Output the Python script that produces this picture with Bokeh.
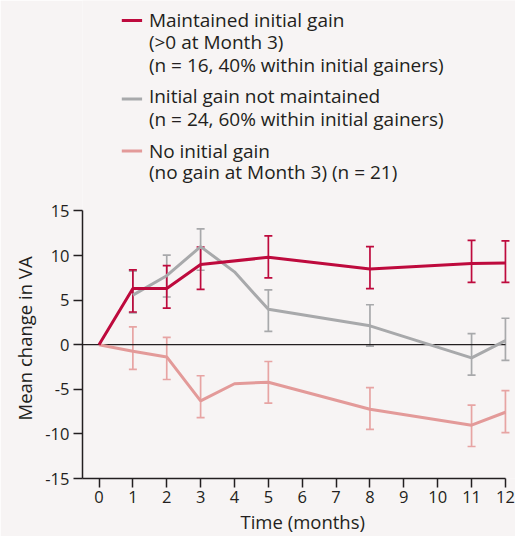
from bokeh.plotting import figure
from bokeh.models import (ColumnDataSource, Whisker, TeeHead, FixedTicker, Range1d, Title)
from bokeh.core.properties import value
from bokeh.embed import file_html
from bokeh.resources import INLINE

# ---------------- data ----------------
months_ticks = [0, 1, 2, 3, 4, 5, 6, 7, 8, 9, 10, 11, 12]
y_ticks = [-15, -10, -5, 0, 5, 10, 15]
y_tick_labels = ["-15", "-10", "-5", "0", "5", "10", "15"]

maint_x = [0, 1, 2, 3, 5, 8, 11, 12]
maint_y = [0, 6.3, 6.3, 9.0, 9.8, 8.5, 9.1, 9.15]
maint_err_x = [1, 2, 3, 5, 8, 11, 12]
maint_hi = [8.4, 8.86, 10.96, 12.2, 11.0, 11.7, 11.65]
maint_lo = [3.67, 4.1, 6.2, 7.5, 6.3, 7.0, 7.0]

notm_x = [1, 2, 3, 4, 5, 8, 11, 12]
notm_y = [5.56, 7.74, 11.0, 8.17, 3.97, 2.12, -1.48, 0.45]
notm_err_x = [1, 2, 3, 5, 8, 11, 12]
notm_hi = [8.25, 10.05, 13.0, 6.14, 4.48, 1.24, 2.97]
notm_lo = [3.57, 5.35, 8.35, 1.5, -0.16, -3.4, -1.75]

nog_x = [0, 1, 2, 3, 4, 5, 8, 11, 12]
nog_y = [0, -0.73, -1.37, -6.3, -4.38, -4.2, -7.24, -9.02, -7.57]
nog_err_x = [1, 2, 3, 5, 8, 11, 12]
nog_hi = [2.0, 0.83, -3.48, -1.88, -4.82, -6.77, -5.14]
nog_lo = [-2.77, -3.9, -8.18, -6.55, -9.49, -11.41, -9.85]

legend_lines = [
    ["Maintained initial gain", "(>0 at Month 3)", "(n = 16, 40% within initial gainers)"],
    ["Initial gain not maintained", "(n = 24, 60% within initial gainers)"],
    ["No initial gain", "(no gain at Month 3) (n = 21)"],
]
x_title = "Time (months)"
y_title = "Mean change in VA"

C_MAINT = "#BE0A3D"
C_NOTM = "#A8A9AB"
C_NOG = "#E39A99"
C_NOG_ERR = "#E7A4A3"
BG = "#F7F4F4"
TXT = "#231F20"
FONT = "Open Sans"

# ---------------- layout geometry (pixels) ----------------
W, H = 515, 536
LEFT = 82            # frame left (y axis line)
BOTTOM = 58          # space below frame
PX_X0 = 98.5         # pixel of month 0
PX_PER_MONTH = 33.87
PX_Y0 = 344.4        # pixel (from top) of VA 0
PX_PER_VA = 8.923

def dx(px):
    return (px - PX_X0) / PX_PER_MONTH

def dy(py):
    return (PX_Y0 - py) / PX_PER_VA

X_START = dx(LEFT)
X_END = dx(W)
Y_TOP = dy(0)

p = figure(width=W, height=H, output_backend="svg", toolbar_location=None,
           x_range=Range1d(X_START, X_END), y_range=Range1d(-15, Y_TOP),
           min_border_left=LEFT, min_border_right=0, min_border_top=0, min_border_bottom=BOTTOM)
p.background_fill_color = BG
p.border_fill_color = BG
p.outline_line_color = None
p.grid.visible = False

for ax in (p.xaxis[0], p.yaxis[0]):
    ax.axis_line_color = TXT
    ax.axis_line_width = 1.5
    ax.major_tick_line_color = TXT
    ax.major_tick_line_width = 1.5
    ax.major_tick_out = 9
    ax.major_tick_in = 0
    ax.minor_tick_line_color = None
    ax.major_label_text_font = FONT
    ax.major_label_text_font_size = "16.5px"
    ax.major_label_text_color = TXT
p.xaxis.ticker = FixedTicker(ticks=months_ticks)
p.xaxis.bounds = (X_START, months_ticks[-1])
p.xaxis.major_label_standoff = 3
p.yaxis.ticker = FixedTicker(ticks=y_ticks)
p.yaxis.bounds = (y_ticks[0], y_ticks[-1])
p.yaxis.major_label_overrides = {t: s for t, s in zip(y_ticks, y_tick_labels)}
p.yaxis.major_label_standoff = 4

p.add_layout(Title(text=x_title, align="left", offset=158, standoff=3,
                   text_font=FONT, text_font_size="18.5px", text_font_style="normal",
                   text_color=TXT), "below")
p.add_layout(Title(text=y_title, align="left", vertical_align="top", offset=58, standoff=8,
                   text_font=FONT, text_font_size="18.5px", text_font_style="normal",
                   text_color=TXT), "left")

# zero line
p.segment(x0=[X_START], y0=[0], x1=[months_ticks[-1]], y1=[0], line_color=TXT, line_width=1.3)

# series lines
p.line(notm_x, notm_y, line_color=C_NOTM, line_width=3)
p.line(nog_x, nog_y, line_color=C_NOG, line_width=3)
p.line(maint_x, maint_y, line_color=C_MAINT, line_width=3)

def add_err(xs, lo, hi, color, width=1.7):
    src = ColumnDataSource(dict(x=xs, lo=lo, hi=hi))
    w = Whisker(base="x", lower="lo", upper="hi", source=src,
                line_color=color, line_width=width,
                upper_head=TeeHead(size=8, line_color=color, line_width=width),
                lower_head=TeeHead(size=8, line_color=color, line_width=width))
    p.add_layout(w)

add_err(nog_err_x, nog_lo, nog_hi, C_NOG_ERR)
add_err(notm_err_x, notm_lo, notm_hi, C_NOTM)
add_err(maint_err_x, maint_lo, maint_hi, C_MAINT)

# legend (drawn above the axes, in the free area of the frame)
colors = [C_MAINT, C_NOTM, C_NOG]
sample_py = [20.1, 98.6, 150.5]
text_py = [[19.2, 42.0, 64.8], [95.9, 118.2], [150.3, 171.6]]
for col, ly, lines, tys in zip(colors, sample_py, legend_lines, text_py):
    p.segment(x0=[dx(121.3)], y0=[dy(ly)], x1=[dx(141.6)], y1=[dy(ly)],
              line_color=col, line_width=3)
    p.text(x=[dx(148.4)] * len(lines), y=[dy(t) for t in tys], text=lines,
           text_font=value(FONT), text_font_size="19px", text_color=TXT,
           text_baseline="middle", text_align="left")

open("out.html", "w").write(file_html(p, INLINE))
